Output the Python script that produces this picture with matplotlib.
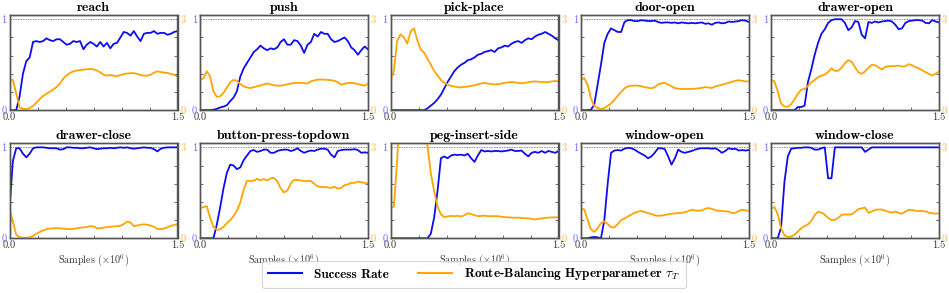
import numpy as np
import matplotlib
matplotlib.use('Agg')
import matplotlib.pyplot as plt
from matplotlib.lines import Line2D
from matplotlib.ticker import FixedLocator

plt.rcParams.update({
    'font.family': 'serif',
    'font.serif': ['cmr10'],
    'mathtext.fontset': 'cm',
    'axes.unicode_minus': False,
})

TASKS = ['reach', 'push', 'pick-place', 'door-open', 'drawer-open',
         'drawer-close', 'button-press-topdown', 'peg-insert-side',
         'window-open', 'window-close']

# sample positions (x 10^6)
SAMPLES = np.linspace(0.0, 1.5, 51)

SR_REACH = [0, 0, 0, 0.15, 0.40, 0.54, 0.58, 0.75, 0.76, 0.75,
            0.76, 0.79, 0.77, 0.76, 0.78, 0.78, 0.75, 0.72, 0.73, 0.76,
            0.75, 0.76, 0.67, 0.72, 0.75, 0.73, 0.70, 0.75, 0.70, 0.74,
            0.68, 0.73, 0.74, 0.80, 0.86, 0.85, 0.82, 0.87, 0.81, 0.76,
            0.84, 0.85, 0.85, 0.87, 0.84, 0.85, 0.85, 0.83, 0.84, 0.86,
            0.87]
TAU_REACH = [1.0, 1.0, 0.55, 0.10, 0.04, 0.04, 0.07, 0.14, 0.25, 0.37,
             0.47, 0.54, 0.61, 0.68, 0.76, 0.88, 1.04, 1.15, 1.23, 1.28,
             1.31, 1.32, 1.34, 1.35, 1.36, 1.35, 1.31, 1.25, 1.17, 1.14,
             1.16, 1.14, 1.12, 1.16, 1.19, 1.21, 1.22, 1.22, 1.20, 1.16,
             1.14, 1.14, 1.17, 1.24, 1.28, 1.26, 1.24, 1.23, 1.20, 1.16,
             1.12]

SR_PUSH = [0, 0, 0, 0, 0.005, 0.015, 0.03, 0.04, 0.055, 0.10,
           0.14, 0.21, 0.37, 0.46, 0.52, 0.58, 0.64, 0.67, 0.71, 0.68,
           0.66, 0.68, 0.67, 0.69, 0.75, 0.78, 0.72, 0.72, 0.77, 0.76,
           0.71, 0.63, 0.72, 0.75, 0.84, 0.81, 0.86, 0.84, 0.84, 0.78,
           0.75, 0.76, 0.78, 0.80, 0.76, 0.69, 0.66, 0.61, 0.66, 0.70,
           0.67]
TAU_PUSH = [1.0, 1.05, 1.28, 1.12, 0.62, 0.44, 0.46, 0.57, 0.75, 0.92,
            1.0, 0.97, 0.86, 0.79, 0.75, 0.73, 0.76, 0.79, 0.82, 0.85,
            0.88, 0.85, 0.82, 0.81, 0.81, 0.83, 0.85, 0.88, 0.90, 0.90,
            0.90, 0.89, 0.88, 0.95, 0.98, 1.01, 1.01, 1.01, 1.0, 0.99,
            0.97, 0.93, 0.84, 0.87, 0.90, 0.90, 0.89, 0.86, 0.83, 0.81,
            0.88]

SR_PICK = [0, 0, 0, 0, 0, 0, 0, 0, 0, 0,
           0, 0.02, 0.05, 0.08, 0.12, 0.17, 0.24, 0.31, 0.37, 0.43,
           0.47, 0.50, 0.52, 0.55, 0.56, 0.58, 0.61, 0.62, 0.64, 0.65,
           0.66, 0.64, 0.68, 0.69, 0.71, 0.70, 0.73, 0.75, 0.76, 0.74,
           0.77, 0.79, 0.78, 0.81, 0.83, 0.84, 0.86, 0.84, 0.82, 0.79,
           0.77]
TAU_PICK = [1.0, 1.3, 2.3, 2.5, 2.4, 2.2, 2.6, 2.7, 2.3, 2.0,
            1.9, 1.7, 1.5, 1.3, 1.15, 1.0, 0.9, 0.85, 0.8, 0.78,
            0.76, 0.75, 0.77, 0.78, 0.8, 0.82, 0.85, 0.88, 0.9, 0.88,
            0.86, 0.85, 0.86, 0.88, 0.9, 0.92, 0.93, 0.92, 0.9, 0.89,
            0.9, 0.92, 0.94, 0.95, 0.94, 0.93, 0.92, 0.93, 0.95, 0.96,
            0.95]

SR_DOOR_OPEN = [0, 0, 0, 0.005, 0.06, 0.28, 0.50, 0.74, 0.84, 0.90,
                0.88, 0.86, 0.86, 0.97, 0.99, 0.99, 0.98, 0.98, 0.99, 0.985,
                0.98, 0.98, 0.985, 0.97, 0.96, 0.965, 0.965, 0.96, 0.965, 0.955,
                0.965, 0.96, 0.955, 0.96, 0.955, 0.96, 0.965, 0.95, 0.955, 0.94,
                0.96, 0.965, 0.955, 0.96, 0.975, 0.97, 0.975, 0.98, 0.99, 0.985,
                0.97]
TAU_DOOR_OPEN = [1.0, 1.06, 0.85, 0.40, 0.14, 0.08, 0.04, 0.07, 0.14, 0.22,
                 0.34, 0.48, 0.60, 0.72, 0.78, 0.81, 0.81, 0.81, 0.79, 0.76,
                 0.74, 0.72, 0.76, 0.85, 0.89, 0.90, 0.85, 0.79, 0.73, 0.71,
                 0.70, 0.70, 0.70, 0.70, 0.71, 0.72, 0.74, 0.76, 0.75, 0.73,
                 0.78, 0.81, 0.84, 0.87, 0.90, 0.94, 0.97, 0.99, 0.97, 0.95,
                 0.95]

SR_DRAWER_OPEN = [0, 0, 0, 0, 0, 0, 0, 0, 0.035, 0.035,
                  0.05, 0.31, 0.45, 0.61, 0.74, 0.84, 0.89, 0.96, 0.99, 1.0,
                  1.0, 1.0, 0.96, 0.88, 0.91, 0.98, 0.97, 0.83, 0.79, 0.97,
                  0.96, 0.975, 0.965, 0.975, 0.98, 0.985, 0.975, 0.94, 0.89, 0.90,
                  0.96, 0.98, 0.985, 0.99, 0.99, 0.985, 0.96, 0.955, 0.99, 0.975,
                  0.965]
TAU_DRAWER_OPEN = [1.0, 0.95, 0.62, 0.22, 0.12, 0.11, 0.20, 0.36, 0.54, 0.68,
                   0.70, 0.80, 0.92, 1.00, 1.09, 1.14, 1.17, 1.26, 1.38, 1.30,
                   1.30, 1.40, 1.55, 1.65, 1.60, 1.42, 1.25, 1.20, 1.28, 1.40,
                   1.50, 1.48, 1.42, 1.34, 1.43, 1.45, 1.45, 1.46, 1.47, 1.44,
                   1.45, 1.52, 1.48, 1.42, 1.38, 1.32, 1.25, 1.20, 1.14, 1.20,
                   1.28]

SR_DRAWER_CLOSE = [0.33, 0.85, 0.99, 0.99, 0.93, 0.89, 0.93, 0.99, 1.0, 1.0,
                   1.0, 0.995, 0.99, 0.99, 0.99, 0.975, 0.98, 1.0, 1.0, 0.995,
                   0.995, 0.99, 0.99, 0.995, 1.0, 0.99, 0.98, 0.985, 0.99, 0.99,
                   0.995, 0.99, 0.995, 1.0, 0.995, 1.0, 0.99, 0.985, 0.99, 0.995,
                   1.0, 0.995, 0.995, 0.98, 0.955, 0.985, 0.995, 1.0, 1.0, 1.0,
                   1.0]
TAU_DRAWER_CLOSE = [0.99, 0.55, 0.12, 0.03, 0.02, 0.02, 0.03, 0.08, 0.15, 0.21,
                    0.26, 0.30, 0.32, 0.33, 0.33, 0.33, 0.32, 0.31, 0.30, 0.31,
                    0.33, 0.35, 0.36, 0.37, 0.40, 0.39, 0.33, 0.33, 0.35, 0.37,
                    0.38, 0.39, 0.40, 0.41, 0.47, 0.55, 0.52, 0.40, 0.42, 0.45,
                    0.46, 0.45, 0.42, 0.38, 0.31, 0.30, 0.32, 0.36, 0.41, 0.44,
                    0.46]

SR_BUTTON = [0, 0, 0, 0, 0, 0.15, 0.34, 0.55, 0.72, 0.81,
             0.80, 0.76, 0.78, 0.86, 0.91, 0.96, 0.97, 0.95, 0.96, 0.975,
             0.975, 0.94, 0.94, 0.96, 0.97, 0.975, 0.975, 0.96, 0.97, 0.99,
             0.96, 0.94, 0.955, 0.965, 0.96, 0.975, 0.985, 0.985, 0.975, 0.92,
             0.89, 0.96, 0.97, 0.975, 0.975, 0.975, 0.98, 0.97, 0.94, 0.945,
             0.94]
TAU_BUTTON = [0.99, 1.03, 1.06, 0.68, 0.38, 0.28, 0.30, 0.38, 0.50, 0.60,
              0.74, 0.92, 1.18, 1.60, 1.90, 1.89, 1.90, 1.96, 1.92, 1.95,
              1.91, 1.98, 1.99, 1.88, 1.65, 1.51, 1.58, 1.80, 1.93, 1.92,
              1.91, 1.89, 1.89, 1.89, 1.80, 1.71, 1.69, 1.69, 1.68, 1.66,
              1.70, 1.64, 1.66, 1.75, 1.78, 1.83, 1.83, 1.87, 1.85, 1.83,
              1.81]

SR_PEG = [0, 0, 0, 0, 0, 0, 0, 0, 0, 0,
          0, 0, 0.05, 0.23, 0.52, 0.88, 0.90, 0.88, 0.91, 0.92,
          0.915, 0.92, 0.91, 0.93, 0.88, 0.84, 0.91, 0.97, 0.955, 0.96,
          0.955, 0.96, 0.96, 0.955, 0.96, 0.965, 0.975, 0.96, 0.96, 0.965,
          0.93, 0.90, 0.94, 0.95, 0.94, 0.96, 0.94, 0.96, 0.95, 0.94,
          0.96]
TAU_PEG = [0.99, 1.05, 2.6, 5.0, 5.5, 5.8, 5.8, 5.5, 5.0, 4.4,
           3.7, 3.05, 2.15, 1.55, 1.05, 0.79, 0.70, 0.72, 0.74, 0.73,
           0.74, 0.72, 0.76, 0.83, 0.80, 0.76, 0.73, 0.74, 0.75, 0.73,
           0.73, 0.73, 0.73, 0.71, 0.70, 0.69, 0.68, 0.68, 0.68, 0.67,
           0.66, 0.66, 0.64, 0.62, 0.64, 0.66, 0.67, 0.68, 0.69, 0.69,
           0.69]

SR_WINDOW_OPEN = [0, 0, 0, 0.01, 0.015, 0.01, 0.0, 0.20, 0.60, 0.94,
                  0.965, 0.97, 0.965, 0.985, 0.995, 0.99, 0.975, 0.95, 0.93, 0.91,
                  0.88, 0.90, 0.94, 0.99, 0.99, 0.98, 0.90, 0.81, 0.88, 0.975,
                  0.95, 0.94, 0.95, 0.96, 0.975, 0.985, 0.99, 0.99, 0.99, 0.985,
                  0.99, 0.97, 0.94, 0.96, 0.99, 0.98, 0.985, 0.965, 0.97, 0.965,
                  0.97]
TAU_WINDOW_OPEN = [0.99, 0.95, 0.62, 0.30, 0.21, 0.33, 0.50, 0.56, 0.47, 0.37,
                   0.36, 0.47, 0.60, 0.65, 0.72, 0.78, 0.84, 0.88, 0.90, 0.87,
                   0.83, 0.80, 0.76, 0.74, 0.75, 0.77, 0.79, 0.81, 0.82, 0.83,
                   0.84, 0.86, 0.90, 0.94, 0.92, 0.91, 0.92, 0.97, 1.00, 0.97,
                   0.93, 0.91, 0.90, 0.89, 0.88, 0.83, 0.84, 0.90, 0.94, 0.92,
                   0.90]

SR_WINDOW_CLOSE = [0, 0, 0, 0.12, 0.62, 0.90, 0.985, 0.99, 0.995, 0.995,
                   1.0, 1.0, 0.995, 0.975, 0.975, 0.99, 1.0, 0.66, 0.66, 1.0,
                   1.0, 1.0, 1.0, 1.0, 1.0, 1.0, 1.0, 1.0, 0.95, 0.975,
                   1.0, 1.0, 1.0, 1.0, 1.0, 1.0, 1.0, 1.0, 1.0, 1.0,
                   1.0, 1.0, 1.0, 1.0, 1.0, 1.0, 1.0, 1.0, 1.0, 1.0,
                   1.0]
TAU_WINDOW_CLOSE = [0.99, 1.03, 0.80, 0.33, 0.10, 0.05, 0.06, 0.12, 0.22, 0.33,
                    0.40, 0.46, 0.57, 0.77, 0.87, 0.85, 0.78, 0.67, 0.60, 0.61,
                    0.68, 0.77, 0.79, 0.78, 0.79, 0.87, 0.96, 0.99, 1.01, 0.84,
                    0.88, 0.94, 0.95, 0.95, 0.91, 0.87, 0.85, 0.88, 0.84, 0.81,
                    0.88, 0.94, 0.93, 0.91, 0.90, 0.90, 0.89, 0.84, 0.83, 0.81,
                    0.83]

SR_SERIES = [SR_REACH, SR_PUSH, SR_PICK, SR_DOOR_OPEN, SR_DRAWER_OPEN,
             SR_DRAWER_CLOSE, SR_BUTTON, SR_PEG, SR_WINDOW_OPEN, SR_WINDOW_CLOSE]
TAU_SERIES = [TAU_REACH, TAU_PUSH, TAU_PICK, TAU_DOOR_OPEN, TAU_DRAWER_OPEN,
              TAU_DRAWER_CLOSE, TAU_BUTTON, TAU_PEG, TAU_WINDOW_OPEN, TAU_WINDOW_CLOSE]

X_TICKS = [0.0, 1.5]
X_TICK_LABELS = ['0.0', '1.5']
SR_TICKS = [0, 1]
TAU_TICKS = [0, 3]
LEGEND_LABELS = ['Success Rate', r'Route-Balancing Hyperparameter $\tau_T$']
XLABEL = r'Samples ($\times 10^6$)'

BLUE = '#0d0df0'
ORANGE = '#ffa500'
BLUE_TXT = '#6b6bff'
ORANGE_TXT = '#ffb84a'
SPINE = '#555555'

W, H = 949, 293
fig = plt.figure(figsize=(W / 100, H / 100), dpi=100)
col_left = [9.5, 200.0, 390.5, 580.8, 771.0]
row_top = [14.7, 142.8]
aw, ah = 168.0, 95.5

for i, task in enumerate(TASKS):
    r, c = divmod(i, 5)
    ax = fig.add_axes([col_left[c] / W, 1 - (row_top[r] + ah) / H, aw / W, ah / H])
    ax.axhline(1.0, color='#8a8a8a', lw=0.6, ls=(0, (2, 1)), zorder=1)
    ax.plot(SAMPLES, SR_SERIES[i], color=BLUE, lw=1.3, zorder=3)
    ax.set_xlim(0, 1.5)
    ax.set_ylim(0, 1.05)
    ax.set_xticks(X_TICKS)
    ax.set_xticklabels(X_TICK_LABELS)
    ax.xaxis.set_minor_locator(FixedLocator([0.25, 0.5, 0.75, 1.0, 1.25]))
    ax.set_yticks(SR_TICKS)
    ax.yaxis.set_minor_locator(FixedLocator([0.2, 0.4, 0.6, 0.8]))
    ax.tick_params(axis='both', which='both', direction='in', length=2.5,
                   width=0.6, color=SPINE, labelsize=7.5)
    ax.tick_params(axis='x', which='major', pad=1.5, labelcolor='#333333', length=0)
    ax.tick_params(axis='y', which='major', pad=2.0, labelcolor=BLUE_TXT, length=0)
    for s in ax.spines.values():
        s.set_color(SPINE)
        s.set_linewidth(1.0)
    ax.set_title(task, fontfamily='cmb10', fontsize=10, pad=2.5)
    if r == 1:
        ax.set_xlabel(XLABEL, fontsize=7.3, labelpad=1.5, color='#333333')

    ax2 = ax.twinx()
    ax2.plot(SAMPLES, TAU_SERIES[i], color=ORANGE, lw=1.3, zorder=2)
    ax2.set_ylim(0, 3.15)
    ax2.set_yticks(TAU_TICKS)
    ax2.yaxis.set_minor_locator(FixedLocator([0.6, 1.2, 1.8, 2.4]))
    ax2.tick_params(axis='y', which='both', direction='in', length=2.5,
                    width=0.6, color=SPINE, labelsize=7.5)
    ax2.tick_params(axis='y', which='major', pad=2.0, labelcolor=ORANGE_TXT, length=0)
    for s in ax2.spines.values():
        s.set_color(SPINE)
        s.set_linewidth(1.0)

handles = [Line2D([], [], color=BLUE, lw=1.5), Line2D([], [], color=ORANGE, lw=1.5)]
leg = fig.legend(handles, LEGEND_LABELS, loc='center',
                 bbox_to_anchor=(474 / W, 1 - 274.5 / H), ncol=2,
                 prop={'family': 'cmb10', 'size': 9.5}, frameon=True,
                 handlelength=2.6, columnspacing=2.2, handletextpad=0.9,
                 borderpad=0.45, fancybox=True)
leg.get_frame().set_edgecolor('#cccccc')
leg.get_frame().set_linewidth(0.8)

fig.savefig('out.png', dpi=100)
